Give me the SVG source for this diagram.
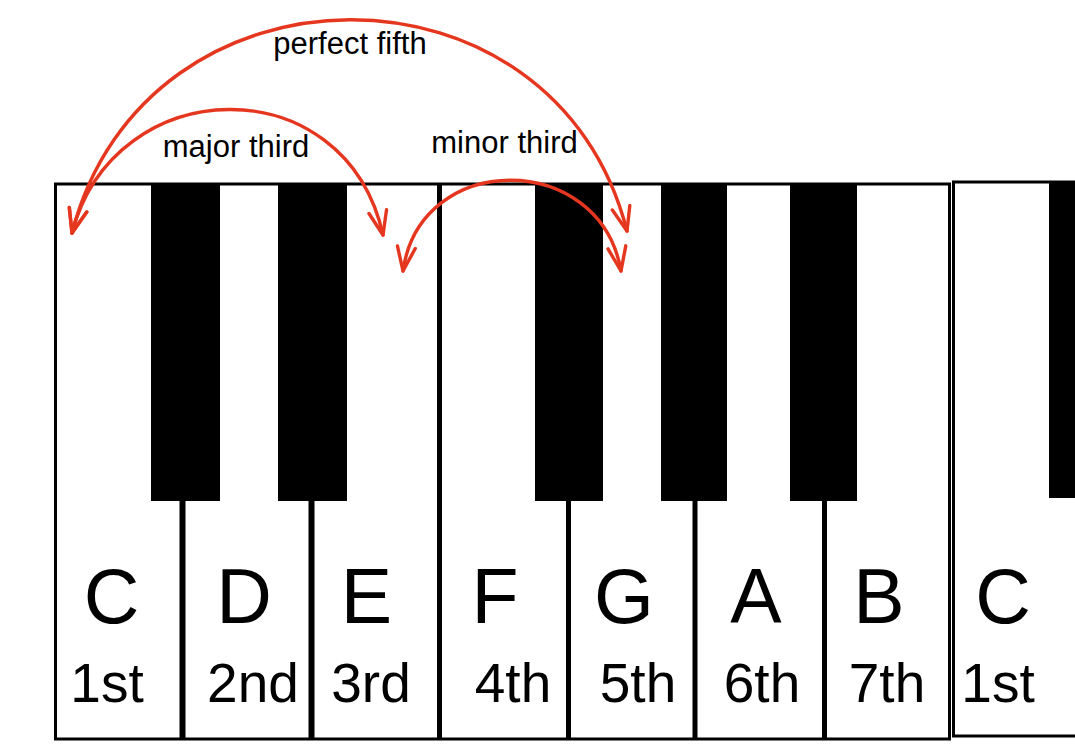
<svg xmlns="http://www.w3.org/2000/svg" width="1075" height="746" viewBox="0 0 1075 746">
<style>
.outline{fill:#ffffff;stroke:#000000;stroke-width:3}
.black{fill:#000000}
.sep{stroke:#000000;fill:none}
.note{font-family:"Liberation Sans",Arial,sans-serif;font-size:77px;fill:#000000;text-anchor:middle}
.ord{font-family:"Liberation Sans",Arial,sans-serif;font-size:55px;fill:#000000;text-anchor:middle}
.lbl{font-family:"Liberation Sans",Arial,sans-serif;font-size:31px;fill:#000000;text-anchor:middle}
.arc{fill:none;stroke:#e5371f;stroke-width:3.4;stroke-linecap:round}
</style>
<defs>
<marker id="open" markerUnits="userSpaceOnUse" viewBox="0 0 28 22" refX="26" refY="11" markerWidth="28" markerHeight="22" orient="auto-start-reverse">
<path d="M2,2 L26,11 L2,20" fill="none" stroke="#e5371f" stroke-width="3.4" stroke-linecap="round" stroke-linejoin="round"/>
</marker>
</defs>
<rect width="1075" height="746" fill="#ffffff"/>
<g id="keyboard">
<rect class="outline" x="55.5" y="184" width="894" height="555"/>
<rect class="outline" x="953.5" y="182" width="200" height="554"/>
<line class="sep" x1="182.5" y1="500" x2="182.5" y2="739" stroke-width="6"/>
<line class="sep" x1="311.5" y1="500" x2="311.5" y2="739" stroke-width="6"/>
<line class="sep" x1="439.5" y1="184" x2="439.5" y2="739" stroke-width="5"/>
<line class="sep" x1="568.5" y1="500" x2="568.5" y2="739" stroke-width="5"/>
<line class="sep" x1="695" y1="500" x2="695" y2="739" stroke-width="5"/>
<line class="sep" x1="824.5" y1="500" x2="824.5" y2="739" stroke-width="5"/>
</g>
<g id="black-keys">
<rect class="black" x="151" y="184" width="69" height="317"/>
<rect class="black" x="278" y="184" width="69" height="317"/>
<rect class="black" x="535" y="184" width="68" height="317"/>
<rect class="black" x="661" y="184" width="66" height="317"/>
<rect class="black" x="790" y="184" width="67" height="317"/>
<rect class="black" x="1049" y="182" width="30" height="316"/>
</g>
<g id="note-names">
<text class="note" x="111.5" y="623">C</text>
<text class="note" x="244" y="623">D</text>
<text class="note" x="366.5" y="623">E</text>
<text class="note" x="495" y="623">F</text>
<text class="note" x="624" y="623">G</text>
<text class="note" x="756" y="623">A</text>
<text class="note" x="879" y="623">B</text>
<text class="note" x="1003" y="623">C</text>
</g>
<g id="degrees">
<text class="ord" x="107" y="702">1st</text>
<text class="ord" x="253" y="702">2nd</text>
<text class="ord" x="371" y="702">3rd</text>
<text class="ord" x="513" y="702">4th</text>
<text class="ord" x="638" y="702">5th</text>
<text class="ord" x="762" y="702">6th</text>
<text class="ord" x="887" y="702">7th</text>
<text class="ord" x="998" y="702">1st</text>
</g>
<g id="connectors">
<path id="perfect-fifth" class="arc" d="M72,233 C145,-50 555,-52 627,231" marker-start="url(#open)" marker-end="url(#open)"/>
<path id="major-third" class="arc" d="M72,233 C114,71 345,65 383,235" marker-start="url(#open)" marker-end="url(#open)"/>
<path id="minor-third" class="arc" d="M403,271 C420,150 600,150 621,271" marker-start="url(#open)" marker-end="url(#open)"/>
</g>
<g id="labels">
<text class="lbl" x="350" y="54">perfect fifth</text>
<text class="lbl" x="236" y="157">major third</text>
<text class="lbl" x="504.5" y="153">minor third</text>
</g>
</svg>
